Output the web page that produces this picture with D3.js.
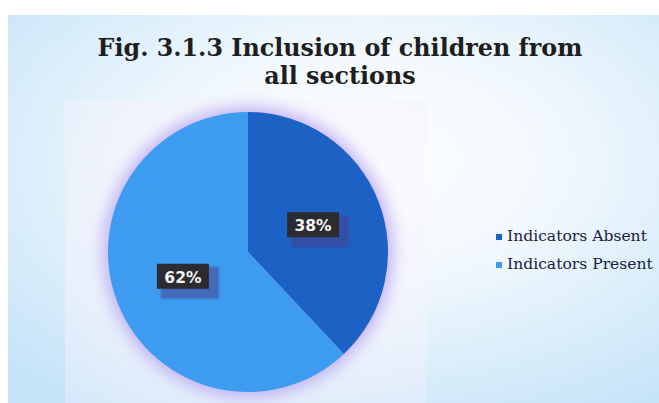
<!DOCTYPE html>
<html>
<head>
<meta charset="utf-8">
<script src="https://cdn.jsdelivr.net/npm/d3@7"></script>
<style>
  html, body { margin: 0; padding: 0; background: #ffffff; }
  svg { display: block; }
</style>
</head>
<body>
<div id="chart"></div>
<script>
// Chart data
const categories = ["Indicators Absent", "Indicators Present"];
const values = [38, 62];
const colors = ["#1b62c4", "#3d9cf0"];
const titleLines = ["Fig. 3.1.3 Inclusion of children from", "all sections"];

const W = 659, H = 403;
const svg = d3.select("#chart").append("svg").attr("width", W).attr("height", H);
const defs = svg.append("defs");

// Slide-style background: pale blue edges fading to white in the middle
const bg = defs.append("radialGradient").attr("id", "bgGrad")
  .attr("cx", "0.55").attr("cy", "0.38").attr("r", "0.75");
bg.append("stop").attr("offset", "0%").attr("stop-color", "#fdfeff");
bg.append("stop").attr("offset", "40%").attr("stop-color", "#f1f8fd");
bg.append("stop").attr("offset", "100%").attr("stop-color", "#c6e4f8");

const plotGrad = defs.append("radialGradient").attr("id", "plotGrad")
  .attr("cx", "0.5").attr("cy", "0.5").attr("r", "0.7");
plotGrad.append("stop").attr("offset", "0%").attr("stop-color", "#fdfbff").attr("stop-opacity", 0.7);
plotGrad.append("stop").attr("offset", "100%").attr("stop-color", "#f6f1fb").attr("stop-opacity", 0.35);

const glow = defs.append("filter").attr("id", "glow")
  .attr("x", "-30%").attr("y", "-30%").attr("width", "160%").attr("height", "160%");
glow.append("feGaussianBlur").attr("stdDeviation", 8);

const soft = defs.append("filter").attr("id", "soft");
soft.append("feGaussianBlur").attr("stdDeviation", 0.4);

const boxBlur = defs.append("filter").attr("id", "boxBlur");
boxBlur.append("feGaussianBlur").attr("stdDeviation", 1.2);

svg.append("rect").attr("x", 8).attr("y", 15).attr("width", W - 8).attr("height", H - 15)
  .attr("fill", "url(#bgGrad)");
svg.append("rect").attr("x", 65).attr("y", 100).attr("width", 362).attr("height", H - 100)
  .attr("fill", "url(#plotGrad)");

// Title
const title = svg.append("text")
  .attr("text-anchor", "middle")
  .attr("font-family", "'DejaVu Serif', serif")
  .attr("font-weight", "bold")
  .attr("fill", "#1e1e1e")
  .attr("font-size", 22);
title.selectAll("tspan").data(titleLines).join("tspan")
  .attr("x", 340)
  .attr("y", (d, i) => 56 + i * 28)
  .text(d => d);
// fit first line width
const firstW = title.select("tspan").node().getComputedTextLength();
title.attr("font-size", 22 * 485 / firstW);

// Pie
const cx = 248, cy = 252, R = 140;
const pie = d3.pie().sort(null).value(d => d)(values);
const arc = d3.arc().innerRadius(0).outerRadius(R);

const g = svg.append("g").attr("transform", `translate(${cx},${cy})`);
g.append("circle").attr("r", R + 5).attr("fill", "#b49ff0").attr("opacity", 0.8)
  .attr("filter", "url(#glow)");
g.selectAll("path.slice").data(pie).join("path")
  .attr("class", "slice")
  .attr("d", arc)
  .attr("fill", (d, i) => colors[i])
  .attr("filter", "url(#soft)");

// Data labels with dark boxes
const labels = g.selectAll("g.lbl").data(pie).join("g")
  .attr("class", "lbl")
  .attr("transform", d => { const c = arc.centroid(d); return `translate(${c[0]},${c[1]})`; });
labels.append("rect")
  .attr("x", -22).attr("y", -11).attr("width", 58).attr("height", 32)
  .attr("fill", "#4a3f8c").attr("opacity", 0.55).attr("filter", "url(#boxBlur)");
labels.append("rect")
  .attr("x", -26).attr("y", -14).attr("width", 52).attr("height", 25)
  .attr("fill", "#2b2b30");
labels.append("text")
  .attr("text-anchor", "middle")
  .attr("y", 5)
  .attr("font-family", "'DejaVu Sans', sans-serif")
  .attr("font-weight", "bold")
  .attr("font-size", 15.5)
  .attr("fill", "#f4f4f4")
  .text((d, i) => values[i] + "%");

// Legend
const legend = svg.append("g").attr("transform", "translate(496,0)");
const items = legend.selectAll("g").data(categories).join("g")
  .attr("transform", (d, i) => `translate(0,${241 + i * 28})`);
items.append("rect").attr("x", 0).attr("y", -7).attr("width", 6).attr("height", 6)
  .attr("fill", (d, i) => colors[i]);
const ltext = items.append("text")
  .attr("x", 11)
  .attr("font-family", "'DejaVu Serif', serif")
  .attr("font-size", 14)
  .attr("fill", "#1a2040")
  .text(d => d);
const lw = ltext.nodes()[0].getComputedTextLength();
ltext.attr("font-size", 14 * 140 / lw);
</script>
</body>
</html>
